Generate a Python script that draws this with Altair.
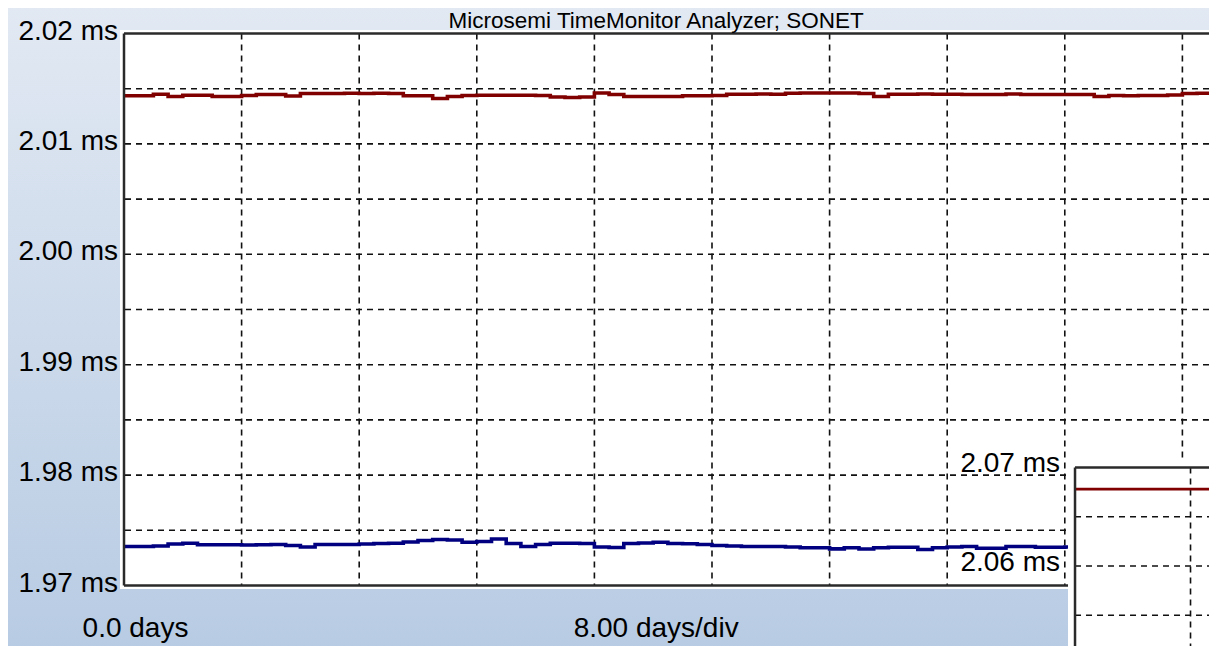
import altair as alt
import pandas as pd

# ---------------- data ----------------
days = list(range(75))
red_ms = [2.01436, 2.01436, 2.01450, 2.01429, 2.01441, 2.01441, 2.01429, 2.01429, 2.01438, 2.01448,
          2.01448, 2.01434, 2.01457, 2.01457, 2.01457, 2.01459, 2.01457, 2.01459, 2.01457, 2.01436,
          2.01436, 2.01411, 2.01429, 2.01438, 2.01441, 2.01441, 2.01441, 2.01441, 2.01438, 2.01425,
          2.01420, 2.01425, 2.01461, 2.01448, 2.01429, 2.01429, 2.01429, 2.01429, 2.01436, 2.01436,
          2.01438, 2.01450, 2.01450, 2.01452, 2.01450, 2.01459, 2.01461, 2.01461, 2.01461, 2.01461,
          2.01457, 2.01429, 2.01450, 2.01450, 2.01452, 2.01450, 2.01450, 2.01448, 2.01448, 2.01448,
          2.01452, 2.01448, 2.01448, 2.01448, 2.01448, 2.01448, 2.01429, 2.01438, 2.01436, 2.01438,
          2.01438, 2.01443, 2.01457, 2.01459, 2.01459]
blue_ms = [1.97353, 1.97353, 1.97358, 1.97376, 1.97383, 1.97369, 1.97369, 1.97369, 1.97367, 1.97369,
           1.97371, 1.97362, 1.97349, 1.97371, 1.97371, 1.97371, 1.97376, 1.97380, 1.97383, 1.97394,
           1.97408, 1.97417, 1.97412, 1.97392, 1.97399, 1.97421, 1.97380, 1.97353, 1.97371, 1.97383,
           1.97383, 1.97380, 1.97349, 1.97344, 1.97380, 1.97385, 1.97392, 1.97380, 1.97378, 1.97371,
           1.97362, 1.97358, 1.97353, 1.97353, 1.97353, 1.97349, 1.97342, 1.97342, 1.97332, 1.97342,
           1.97331, 1.97342, 1.97347, 1.97347, 1.97326, 1.97342, 1.97349, 1.97353, 1.97338, 1.97338,
           1.97353, 1.97353, 1.97347, 1.97347, 1.97349, 1.97347, 1.97344, 1.97347, 1.97342, 1.97344,
           1.97347, 1.97344, 1.97342, 1.97344, 1.97344]
series_names = ["Channel A", "Channel B"]
series_colors = ["#800000", "#000080"]

x_grid_days = [8, 16, 24, 32, 40, 48, 56, 64, 72]
y_grid_ms = [1.975, 1.98, 1.985, 1.99, 1.995, 2.00, 2.005, 2.01, 2.015]
y_label_ms = [1.97, 1.98, 1.99, 2.00, 2.01, 2.02]
x_label_days = [0.0]
x_domain = [0, 73.81]
y_domain = [1.97, 2.02]

title_text = "Microsemi TimeMonitor Analyzer; SONET"
div_text = "8.00 days/div"
centre_day = 36.2          # where the title and the days/div caption are centred

# inset (second, partly visible panel)
inset_x_domain = [-65.87, 9.28]
inset_y_domain = [2.05802, 2.11406]
inset_line_x = [0, 9.28]
inset_line_ms = [2.0678, 2.0678]
inset_y_grid = [2.065, 2.06, 2.055]
inset_x_grid = [8]
inset_labels = [2.07, 2.06]
inset_top = 2.07

FONT = "Liberation Sans"

# ---------------- layout ----------------
W, H = 1085, 552
GRID = dict(color="#111111", strokeWidth=1.6, strokeDash=[6, 5])
FRAME = dict(color="#2a2a2a", strokeWidth=2.5)
TXT = dict(font=FONT, fontSize=28, color="black")

xs = alt.Scale(domain=x_domain, nice=False, zero=False)
ys = alt.Scale(domain=y_domain, nice=False, zero=False)
ixs = alt.Scale(domain=inset_x_domain, nice=False, zero=False)
iys = alt.Scale(domain=inset_y_domain, nice=False, zero=False)

one = pd.DataFrame({"k": [0]})
gradient = {
    "gradient": "linear", "x1": 0, "y1": 0, "x2": 0, "y2": 1,
    "stops": [{"offset": 0, "color": "#e2e9f3"}, {"offset": 1, "color": "#b7cbe3"}],
}

bg = alt.Chart(one).mark_rect(fill=gradient, strokeWidth=0).encode(
    x=alt.value(-120), x2=alt.value(W + 10), y=alt.value(-30), y2=alt.value(H + 70)
)
panel = alt.Chart(one).mark_rect(fill="white", strokeWidth=0).encode(
    x=alt.value(-4), x2=alt.value(W + 10), y=alt.value(-3.5), y2=alt.value(H + 3.5)
)

vgrid = alt.Chart(pd.DataFrame({"d": x_grid_days})).mark_rule(**GRID).encode(
    x=alt.X("d:Q", scale=xs, axis=None)
)
hgrid = alt.Chart(pd.DataFrame({"v": y_grid_ms})).mark_rule(**GRID).encode(
    y=alt.Y("v:Q", scale=ys, axis=None)
)

lines_df = pd.DataFrame({"day": days, series_names[0]: red_ms, series_names[1]: blue_ms})
lines = alt.Chart(lines_df).transform_fold(series_names, as_=["series", "ms"]).mark_line(
    strokeWidth=3.6, interpolate="step-after"
).encode(
    x=alt.X("day:Q", scale=xs, axis=None),
    y=alt.Y("ms:Q", scale=ys, axis=None),
    color=alt.Color("series:N", scale=alt.Scale(domain=series_names, range=series_colors), legend=None),
    detail="series:N",
)

frame_left = alt.Chart(pd.DataFrame({"d": [x_domain[0]]})).mark_rule(**FRAME).encode(
    x=alt.X("d:Q", scale=xs, axis=None)
)
frame_tb = alt.Chart(pd.DataFrame({"v": y_domain})).mark_rule(**FRAME).encode(
    y=alt.Y("v:Q", scale=ys, axis=None)
)

# y tick labels
ylab = alt.Chart(pd.DataFrame({"v": y_label_ms, "d": x_domain[0]})).transform_calculate(
    label="format(datum.v, '.2f') + ' ms'"
).mark_text(align="right", baseline="middle", dx=-6, dy=-2, **TXT).encode(
    x=alt.X("d:Q", scale=xs, axis=None), y=alt.Y("v:Q", scale=ys, axis=None), text="label:N"
)
# "0.0 days" under the left edge
xlab = alt.Chart(pd.DataFrame({"d": x_label_days, "v": y_domain[0]})).transform_calculate(
    label="format(datum.d, '.1f') + ' days'"
).mark_text(align="center", baseline="alphabetic", dx=11.5, dy=51.5, **TXT).encode(
    x=alt.X("d:Q", scale=xs, axis=None), y=alt.Y("v:Q", scale=ys, axis=None), text="label:N"
)
# "8.00 days/div" caption
xcap = alt.Chart(pd.DataFrame({"d": [centre_day], "v": [y_domain[0]], "t": [div_text]})).mark_text(
    align="center", baseline="alphabetic", dy=51.5, **TXT
).encode(
    x=alt.X("d:Q", scale=xs, axis=None), y=alt.Y("v:Q", scale=ys, axis=None), text="t:N"
)
# chart title
ttl = alt.Chart(pd.DataFrame({"d": [centre_day], "v": [y_domain[1]], "t": [title_text]})).mark_text(
    align="center", baseline="alphabetic", dy=-5.5, font=FONT, fontSize=22.5, color="black"
).encode(
    x=alt.X("d:Q", scale=xs, axis=None), y=alt.Y("v:Q", scale=ys, axis=None), text="t:N"
)

main = alt.layer(bg, panel, vgrid, hgrid, lines, frame_left, frame_tb, ylab, xlab, xcap, ttl)

# ---------------- inset ----------------
inset_panel = alt.Chart(pd.DataFrame({"x0": [0], "y0": [inset_top]})).mark_rect(
    fill="white", strokeWidth=0, xOffset=-7, yOffset=-6.5
).encode(
    x=alt.X("x0:Q", scale=ixs, axis=None), x2=alt.value(W + 10),
    y=alt.Y("y0:Q", scale=iys, axis=None), y2=alt.value(H + 120),
)
inset_hgrid = alt.Chart(pd.DataFrame({"v": inset_y_grid, "x0": 0})).mark_rule(**GRID).encode(
    x=alt.X("x0:Q", scale=ixs, axis=None), x2=alt.value(W + 10),
    y=alt.Y("v:Q", scale=iys, axis=None),
)
inset_vgrid = alt.Chart(pd.DataFrame({"d": inset_x_grid, "y0": inset_top})).mark_rule(**GRID).encode(
    x=alt.X("d:Q", scale=ixs, axis=None),
    y=alt.Y("y0:Q", scale=iys, axis=None), y2=alt.value(H + 120),
)
inset_frame_left = alt.Chart(pd.DataFrame({"x0": [0], "y0": [inset_top]})).mark_rule(**FRAME).encode(
    x=alt.X("x0:Q", scale=ixs, axis=None),
    y=alt.Y("y0:Q", scale=iys, axis=None), y2=alt.value(H + 120),
)
inset_frame_top = alt.Chart(pd.DataFrame({"x0": [0], "y0": [inset_top]})).mark_rule(**FRAME).encode(
    x=alt.X("x0:Q", scale=ixs, axis=None), x2=alt.value(W + 10),
    y=alt.Y("y0:Q", scale=iys, axis=None),
)
inset_line = alt.Chart(pd.DataFrame({"x": inset_line_x, "v": inset_line_ms})).mark_line(
    color="#800000", strokeWidth=2.8
).encode(
    x=alt.X("x:Q", scale=ixs, axis=None),
    y=alt.Y("v:Q", scale=iys, axis=None),
)
inset_text = alt.Chart(pd.DataFrame({"v": inset_labels, "x0": 0})).transform_calculate(
    label="format(datum.v, '.2f') + ' ms'"
).mark_text(align="right", baseline="middle", dx=-15, dy=-3, **TXT).encode(
    x=alt.X("x0:Q", scale=ixs, axis=None),
    y=alt.Y("v:Q", scale=iys, axis=None),
    text="label:N",
)

inset = alt.layer(inset_panel, inset_hgrid, inset_vgrid, inset_line,
                  inset_frame_left, inset_frame_top, inset_text)

chart = alt.layer(main, inset).resolve_scale(x="independent", y="independent").properties(
    width=W, height=H,
    autosize=alt.AutoSizeParams(type="none"),
    padding={"left": 116, "top": 25.5, "right": 0, "bottom": 60.5},
    background="#e2e9f3",
).configure_view(stroke=None)

chart.save("out.html", embed_options={"renderer": "svg", "actions": False})
